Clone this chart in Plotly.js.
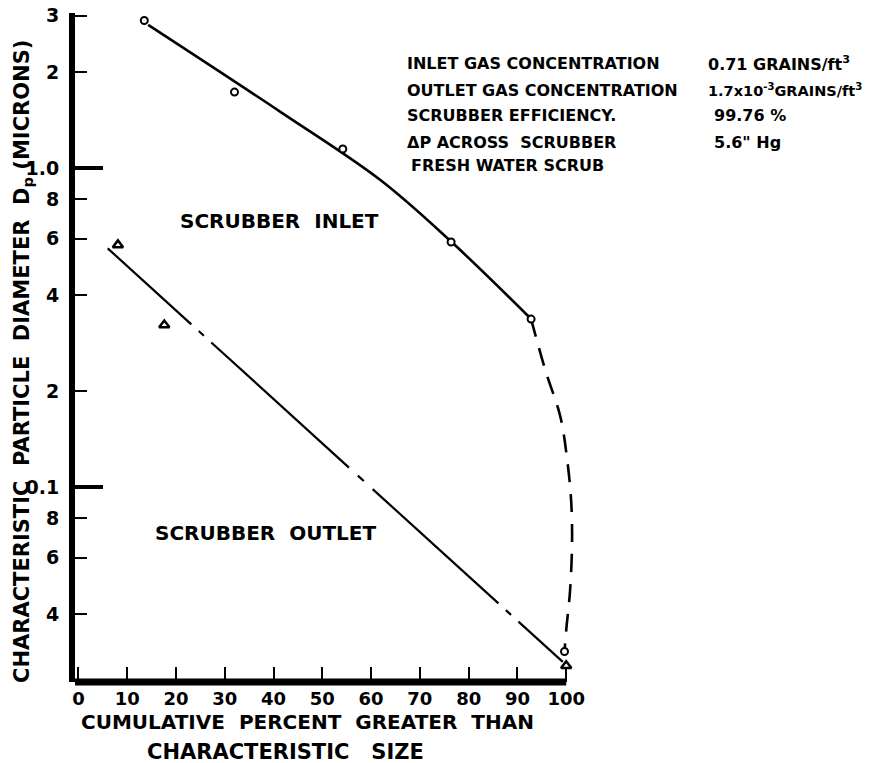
<!DOCTYPE html>
<html><head><meta charset="utf-8">
<script src="https://cdn.plot.ly/plotly-3.0.1.min.js"></script>
<style>html,body{margin:0;padding:0;background:#fff}</style>
</head><body><div id="chart" style="width:872px;height:763px"></div>
<script>
// Measured points
const inletX = [13.5, 32.0, 54.2, 76.4, 92.8, 99.65];
const inletY = [2.90, 1.73, 1.147, 0.586, 0.336, 0.0305];
const outletX = [8.1, 17.6, 100.0];
const outletY = [0.574, 0.322, 0.0275];
// Hand-drawn fitted lines
const outletFitX = [6.0, 99.3];
const outletFitY = [0.560, 0.0283];
const inletCurveX = [14.3, 41.4, 61.9, 76.4, 92.5];
const inletCurveY = [2.81, 1.50, 0.917, 0.588, 0.34];
const inletTailX = [92.8, 95.7, 98.8, 100.2, 101.0, 101.2, 100.8, 100.0, 99.65];
const inletTailY = [0.336, 0.233, 0.166, 0.1216, 0.091, 0.0682, 0.0476, 0.0356, 0.0305];
// Axis ticks
const yTickVals = [3, 2, 1, 0.8, 0.6, 0.4, 0.2, 0.1, 0.08, 0.06, 0.04];
const yTickText = ["3", "2", "1.0", "8", "6", "4", "2", "0.1", "8", "6", "4"];
const yMajorVals = [1, 0.1];
const xTickVals = [0, 10, 20, 30, 40, 50, 60, 70, 80, 90, 100];
const xTickText = ["0", "10", "20", "30", "40", "50", "60", "70", "80", "90", "100"];
// Texts
const infoLabels = ["INLET GAS CONCENTRATION", "OUTLET GAS CONCENTRATION", "SCRUBBER EFFICIENCY.", "ΔP ACROSS  SCRUBBER", "FRESH WATER SCRUB"];
const infoValues = ["0.71 GRAINS/ft<sup>3</sup>", "1.7x10<sup>-3</sup>GRAINS/ft<sup>3</sup>", "99.76 %", "5.6\" Hg"];

const FONT = 'DejaVu Sans';
const L = 75, T = 13, W = 500, H = 669;
const px = x => (x - L) / W;
const py = y => (T + H - y) / H;
const yRange = [-1.6113, 0.4859];
const xRange = [-0.7, 101.8];

const traces = [
  {x: outletFitX, y: outletFitY, mode: 'lines', line: {color: '#000', width: 2.2,
    dash: '113px,10px,7px,10px,186px,12px,8px,12px,170px,10px,7px,10px,200px,10px'}, hoverinfo: 'skip'},
  {x: inletCurveX, y: inletCurveY, mode: 'lines', line: {color: '#000', width: 2.6, shape: 'spline', smoothing: 1}},
  {x: inletTailX, y: inletTailY, mode: 'lines', line: {color: '#000', width: 2.6, shape: 'spline', smoothing: 1, dash: '18px,12px'}},
  {x: inletX, y: inletY, mode: 'markers', marker: {symbol: 'circle', size: 7, color: '#fff', line: {color: '#000', width: 2}}, cliponaxis: false},
  {x: outletX, y: outletY, mode: 'markers', marker: {symbol: 'triangle-up', size: 9, color: '#fff', line: {color: '#000', width: 2.5}}, cliponaxis: false},
  {x: [null], y: [null], yaxis: 'y2', mode: 'markers', showlegend: false, hoverinfo: 'skip'}
];

const ann = [];
const rowsY = [63, 90, 116, 143, 165];
infoLabels.forEach((t, i) => ann.push({text: t, x: px(i === 4 ? 409 : 405), y: py(rowsY[i]), xanchor: 'left', yanchor: 'middle', size: 16}));
const valX = [706, 706, 712, 712];
const valSize = [16, 14.5, 16, 16];
infoValues.forEach((t, i) => ann.push({text: t, x: px(valX[i]), y: py(rowsY[i]), xanchor: 'left', yanchor: 'middle', size: valSize[i]}));
ann.forEach(a => { a.xref = 'paper'; a.yref = 'paper'; a.showarrow = false; a.font = {family: FONT, size: a.size, color: '#000', weight: 'bold'}; delete a.size; });
const big = {family: FONT, size: 20, color: '#000', weight: 'bold'};
ann.push({text: 'SCRUBBER  INLET', x: px(178), y: py(221), xanchor: 'left', yanchor: 'middle', xref: 'paper', yref: 'paper', showarrow: false, font: big});
ann.push({text: 'SCRUBBER  OUTLET', x: px(153), y: py(533), xanchor: 'left', yanchor: 'middle', xref: 'paper', yref: 'paper', showarrow: false, font: big});
ann.push({text: 'CUMULATIVE  PERCENT  GREATER  THAN', x: px(307), y: py(722), xanchor: 'center', yanchor: 'middle', xref: 'paper', yref: 'paper', showarrow: false, font: big});
ann.push({text: 'CHARACTERISTIC   SIZE', x: px(285), y: py(752), xanchor: 'center', yanchor: 'middle', xref: 'paper', yref: 'paper', showarrow: false, font: {family: FONT, size: 21, color: '#000', weight: 'bold'}});
ann.push({text: 'CHARACTERISTIC  PARTICLE  DIAMETER  D<sub>p</sub> (MICRONS)', textangle: -90, x: px(23), y: py(362), xanchor: 'center', yanchor: 'middle', xref: 'paper', yref: 'paper', showarrow: false, font: {family: FONT, size: 21, color: '#000', weight: 'bold'}});

const layout = {
  width: 872, height: 763,
  margin: {l: L, r: 872 - L - W, t: T, b: 763 - T - H},
  paper_bgcolor: '#fff', plot_bgcolor: '#fff',
  showlegend: false,
  xaxis: {range: xRange, tickvals: xTickVals, ticktext: xTickText, ticks: 'inside', ticklen: 15, tickwidth: 2, tickcolor: '#000',
    showline: false, showgrid: false, zeroline: false, ticklabelstandoff: 4,
    tickfont: {family: FONT, size: 18, color: '#000', weight: 'bold'}},
  yaxis: {type: 'log', range: yRange, tickvals: yTickVals, ticktext: yTickText, ticks: 'inside', ticklen: 12, tickwidth: 2, tickcolor: '#000',
    showline: true, linewidth: 6, linecolor: '#000', showgrid: false, zeroline: false, ticklabelstandoff: 6,
    tickfont: {family: FONT, size: 19, color: '#000', weight: 'bold'}},
  yaxis2: {type: 'log', range: yRange, overlaying: 'y', side: 'left', tickvals: yMajorVals, ticks: 'inside', ticklen: 28, tickwidth: 4, tickcolor: '#000',
    showticklabels: false, showline: false, showgrid: false, zeroline: false},
  shapes: [{type: 'line', xref: 'x', yref: 'paper', x0: xRange[0], x1: 100, y0: 0, y1: 0, line: {color: '#000', width: 7}}],
  annotations: ann
};
Plotly.newPlot('chart', traces, layout, {displayModeBar: false, staticPlot: true});
</script></body></html>
